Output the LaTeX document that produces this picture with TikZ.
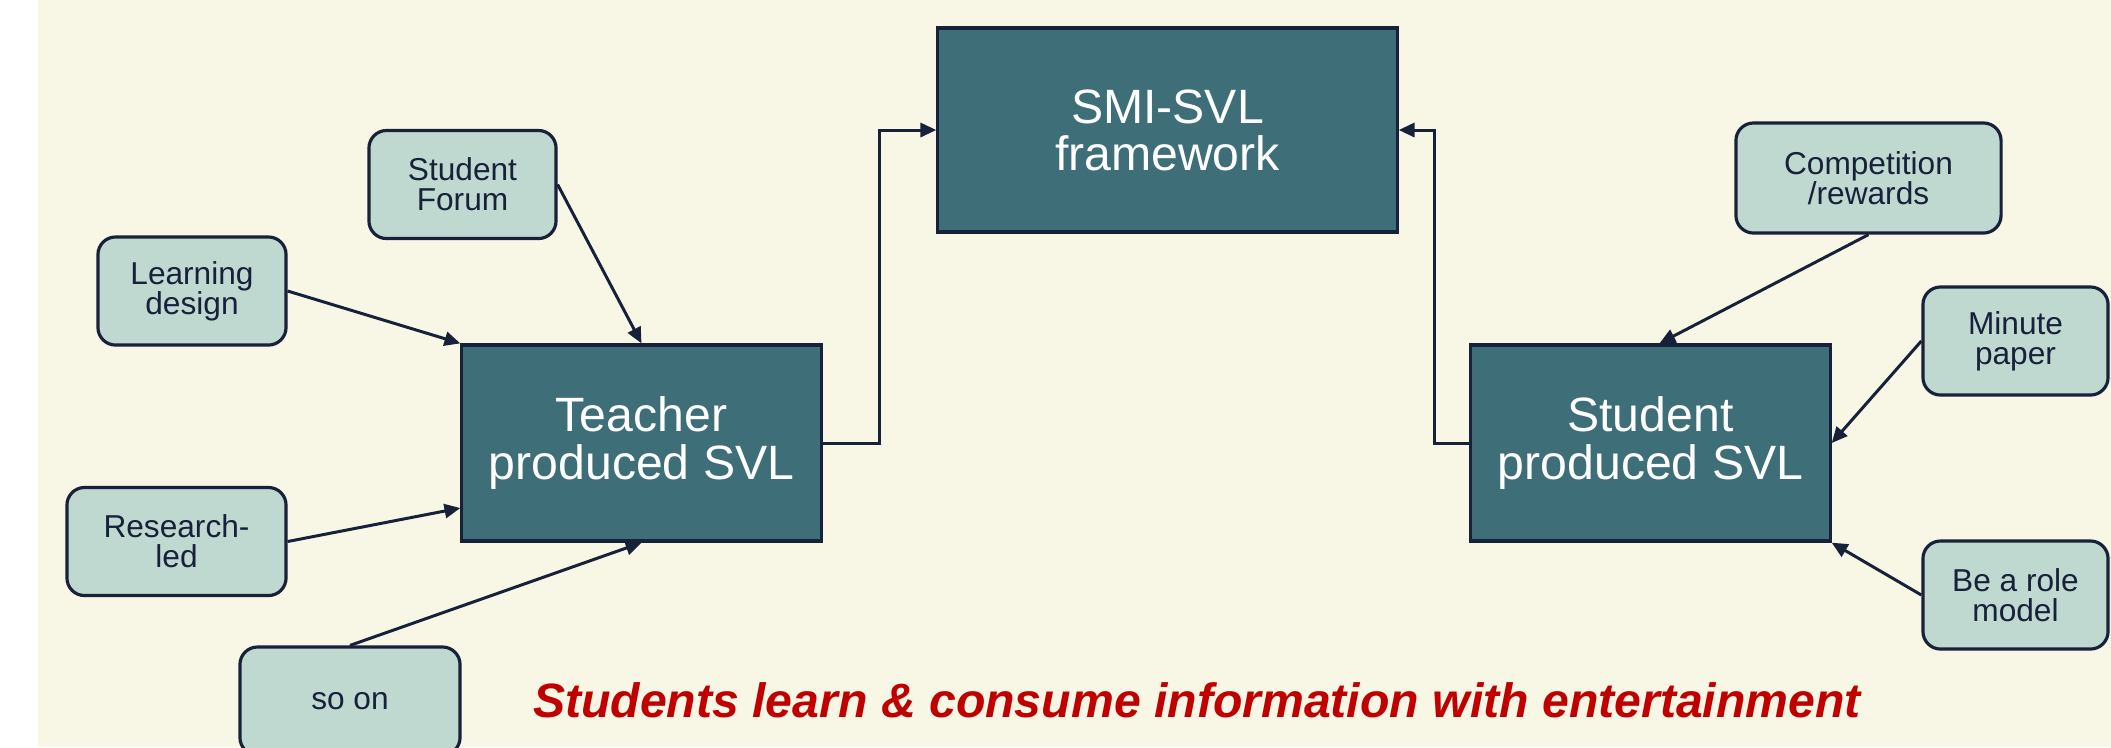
\documentclass[tikz,border=0pt]{standalone}
\usepackage{fontspec}
\setmainfont{Liberation Sans}
\usetikzlibrary{arrows.meta, calc}

\definecolor{cream}{HTML}{F8F6E5}
\definecolor{tealbox}{HTML}{3E6F78}
\definecolor{sagebox}{HTML}{BFD9D0}
\definecolor{navy}{HTML}{18213A}
\definecolor{darkred}{HTML}{C00000}

\begin{document}
\begin{tikzpicture}[x=0.01cm, y=-0.01cm,
  bigbox/.style={rectangle, draw=navy, line width=0.9pt, fill=tealbox, text=white, align=center, inner sep=0pt, font=\fontsize{13.7}{13.4}\selectfont},
  smallbox/.style={rectangle, rounded corners=5pt, draw=navy, line width=0.9pt, fill=sagebox, text=navy, align=center, inner sep=0pt, minimum height=1.08cm, font=\fontsize{9}{8.5}\selectfont},
  link/.style={draw=navy, line width=0.85pt, -{Triangle[length=4.5pt,width=4pt]}}]
\useasboundingbox (0,0) rectangle (2111,747);
\clip (0,0) rectangle (2111,747);
\fill[white] (0,0) rectangle (2111,747);
\fill[cream] (38,0) rectangle (2111,747);

% main boxes
\node[bigbox, minimum width=4.59cm, minimum height=2.04cm] (SMI) at (1167.5,130) {SMI-SVL\\framework};
\node[bigbox, minimum width=3.59cm, minimum height=1.96cm] (Teacher) at (641.5,443) {Teacher\\produced SVL};
\node[bigbox, minimum width=3.59cm, minimum height=1.96cm] (Student) at (1650.5,443) {Student\\produced SVL};

% inputs, teacher side
\node[smallbox, minimum width=1.87cm] (forum) at (462.5,184.5) {Student\\Forum};
\node[smallbox, minimum width=1.88cm] (design) at (192,291) {Learning\\design};
\node[smallbox, minimum width=2.19cm] (research) at (176.5,541.5) {Research-\\led};
\node[smallbox, minimum width=2.20cm] (soon) at (350,701) {so on};

% inputs, student side
\node[smallbox, minimum width=2.65cm, minimum height=1.10cm] (rewards) at (1868.5,178) {Competition\\/rewards};
\node[smallbox, minimum width=1.85cm] (minute) at (2015.5,341) {Minute\\paper};
\node[smallbox, minimum width=1.85cm] (role) at (2015.5,595) {Be a role\\model};

\node[anchor=base, text=darkred, font=\fontsize{13.7}{16}\selectfont\bfseries\itshape] (tagline) at (1197,717) {Students learn \& consume information with entertainment};

% connectors
\coordinate (tbend) at (879,443);
\coordinate (sbend) at (1434,443);
\draw[link] (Teacher.east) -- (tbend) |- (SMI.west);
\draw[link] (Student.west) -- (sbend) |- (SMI.east);
\draw[link] (forum.east) -- (Teacher.north);
\draw[link] (design.east) -- (Teacher.north west);
\draw[link] (research.east) -- ($(Teacher.west)+(0,65)$);
\draw[link] (soon.north) -- (Teacher.south);
\draw[link] (rewards.south) -- ($(Student.north)+(9,0)$);
\draw[link] (minute.west) -- (Student.east);
\draw[link] (role.west) -- (Student.south east);
\end{tikzpicture}
\end{document}
